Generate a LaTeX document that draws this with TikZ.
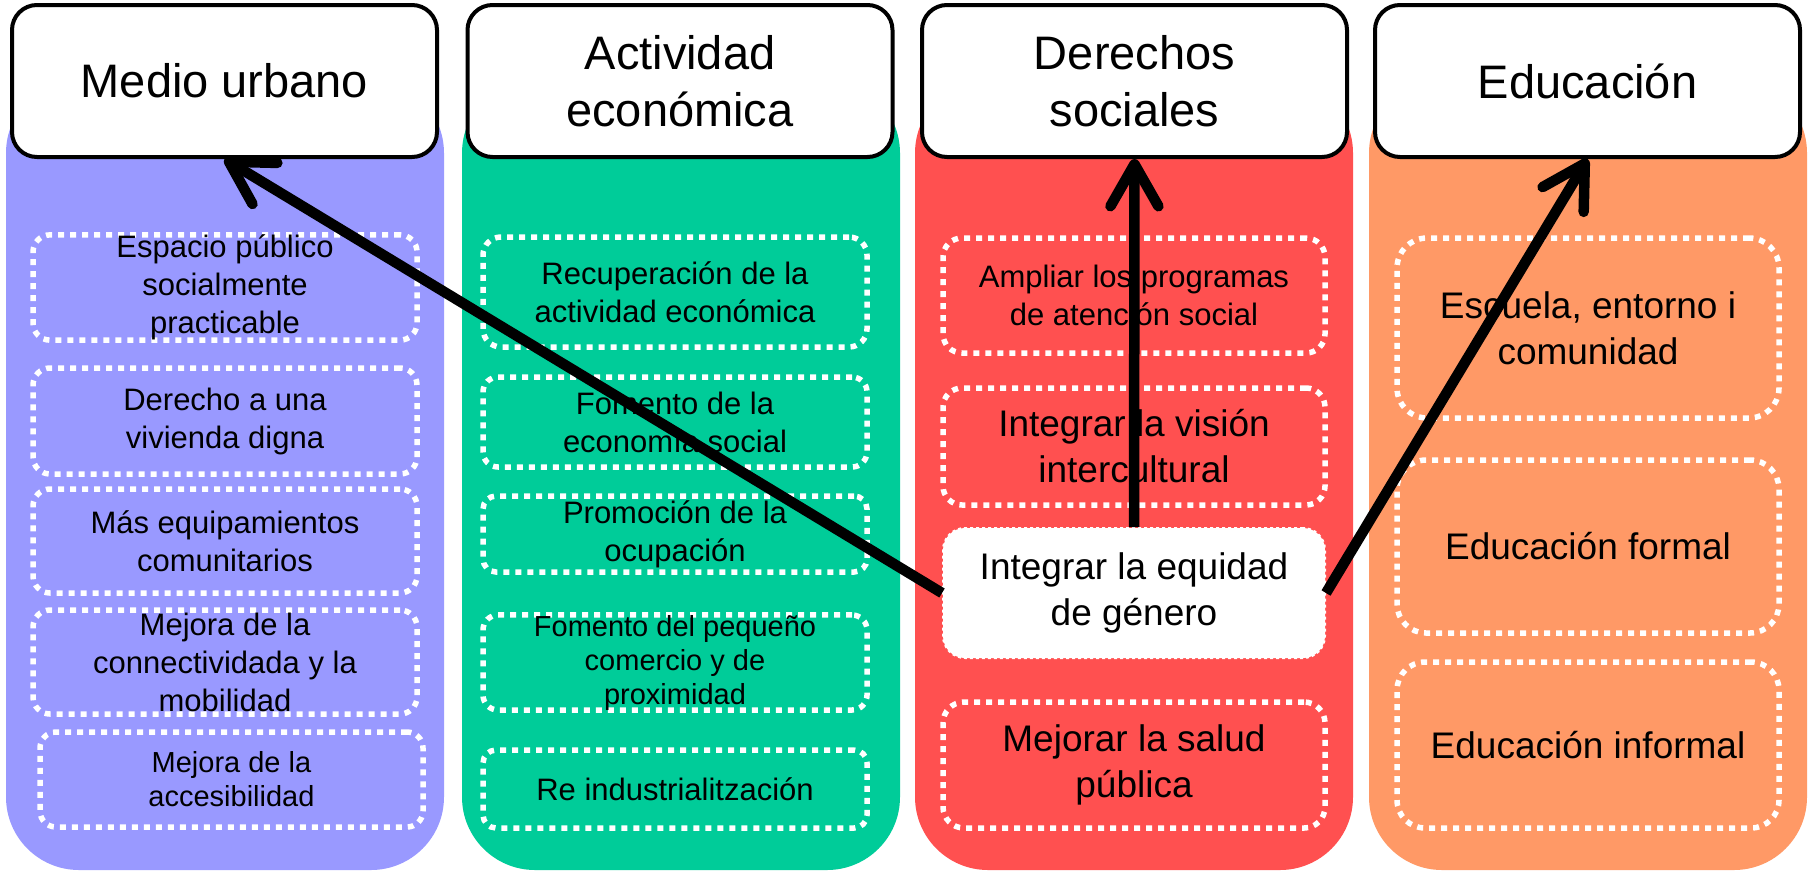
\documentclass[tikz,border=0pt]{standalone}
\usepackage{fontspec}
\setmainfont{Liberation Sans}
\usetikzlibrary{arrows.meta}
\definecolor{purp}{HTML}{9999FF}
\definecolor{grn}{HTML}{00CC99}
\definecolor{rd}{HTML}{FF5050}
\definecolor{orng}{HTML}{FF9966}
\tikzset{
  colbg/.style={rectangle, rounded corners=73pt, minimum width=438pt, minimum height=790pt, inner sep=0pt},
  hdr/.style={rectangle, draw=black, line width=4pt, fill=white, rounded corners=25pt,
    minimum width=425pt, minimum height=152pt, inner sep=0pt, align=center,
    font=\fontsize{47}{57}\selectfont},
  itm/.style={rectangle, draw=white, line width=5.5pt, dash pattern=on 6pt off 6pt,
    rounded corners=#1, inner sep=0pt, align=center},
  fa/.style={font=\fontsize{31}{38}\selectfont},
  fb/.style={font=\fontsize{29}{34}\selectfont},
  fc/.style={font=\fontsize{37}{46}\selectfont},
  gbox/.style={rectangle, fill=white, draw=white, line width=2pt, dash pattern=on 3pt off 3pt,
    rounded corners=22pt, inner sep=0pt, align=center},
  arr/.style={line width=10.5pt, -{Straight Barb[length=42pt,width=48pt,round]}}
}
\begin{document}
\begin{tikzpicture}[x=1pt,y=-1pt]
\useasboundingbox (0,0) rectangle (1812,879);
% column backgrounds
\node[colbg, fill=purp] (col1) at (225,475) {};
\node[colbg, fill=grn]  (col2) at (681,475) {};
\node[colbg, fill=rd]   (col3) at (1134,475) {};
\node[colbg, fill=orng] (col4) at (1588,475) {};
% headers
\node[hdr] (h1) at (224.5,81) {\raisebox{-3pt}{Medio urbano}};
\node[hdr] (h2) at (680,81) {Actividad\\econ\'omica};
\node[hdr] (h3) at (1134.5,81) {Derechos\\sociales};
\node[hdr] (h4) at (1587.5,81) {\raisebox{-3pt}{Educaci\'on}};
% column 1
\node[itm=17pt, fa, minimum width=384pt, minimum height=105pt] (a1) at (225,287.5) {Espacio p\'ublico\\socialmente\\practicable};
\node[itm=17pt, fa, minimum width=384pt, minimum height=106pt] (a2) at (225,421) {Derecho a una\\vivienda digna};
\node[itm=17pt, fa, minimum width=384pt, minimum height=104pt] (a3) at (225,541) {M\'as equipamientos\\comunitarios};
\node[itm=17pt, fa, minimum width=384pt, minimum height=104pt] (a4) at (225,662) {Mejora de la\\connectividada y la\\mobilidad};
\node[itm=16pt, fb, minimum width=383pt, minimum height=95pt] (a5) at (231.5,779.5) {Mejora de la\\accesibilidad};
% column 2
\node[itm=18pt, fa, minimum width=384pt, minimum height=110pt] (b1) at (675,292) {Recuperaci\'on de la\\actividad econ\'omica};
\node[itm=15pt, fa, minimum width=384pt, minimum height=90pt] (b2) at (675,422) {Fomento de la\\econom\'ia social};
\node[itm=13pt, fa, minimum width=384pt, minimum height=76pt] (b3) at (675,534) {Promoci\'on de la\\ocupaci\'on};
\node[itm=15pt, fb, minimum width=384pt, minimum height=91pt] (b4) at (675,662.5) {Fomento del peque\~no\\comercio y de\\proximidad};
\node[itm=13pt, fa, minimum width=384pt, minimum height=78pt] (b5) at (675,789) {Re industrialitzaci\'on};
% column 3
\node[itm=19pt, fa, minimum width=382pt, minimum height=115pt] (c1) at (1134,295.5) {Ampliar los programas\\de atenci\'on social};
\node[itm=19pt, fc, minimum width=382pt, minimum height=117pt] (c2) at (1134,446.5) {Integrar la visi\'on\\intercultural};
\node[itm=21pt, fc, minimum width=382pt, minimum height=126pt] (c4) at (1134,765) {Mejorar la salud\\p\'ublica};
% column 4
\node[itm=30pt, fc, minimum width=382pt, minimum height=180pt] (d1) at (1588,328) {Escuela, entorno i\\comunidad};
\node[itm=29pt, fc, minimum width=382pt, minimum height=173pt] (d2) at (1588,546.5) {Educaci\'on formal};
\node[itm=28pt, fc, minimum width=382pt, minimum height=166pt] (d3) at (1588,745) {Educaci\'on informal};
% central box
\node[gbox, fc, minimum width=382pt, minimum height=130pt] (g) at (1134,593) {Integrar la equidad\\de g\'enero};
% arrows
\draw[arr] (g.west) -- (h1.south);
\draw[arr] (g.north) -- (h3.south);
\draw[arr] (g.east) -- (h4.south);
\end{tikzpicture}
\end{document}
